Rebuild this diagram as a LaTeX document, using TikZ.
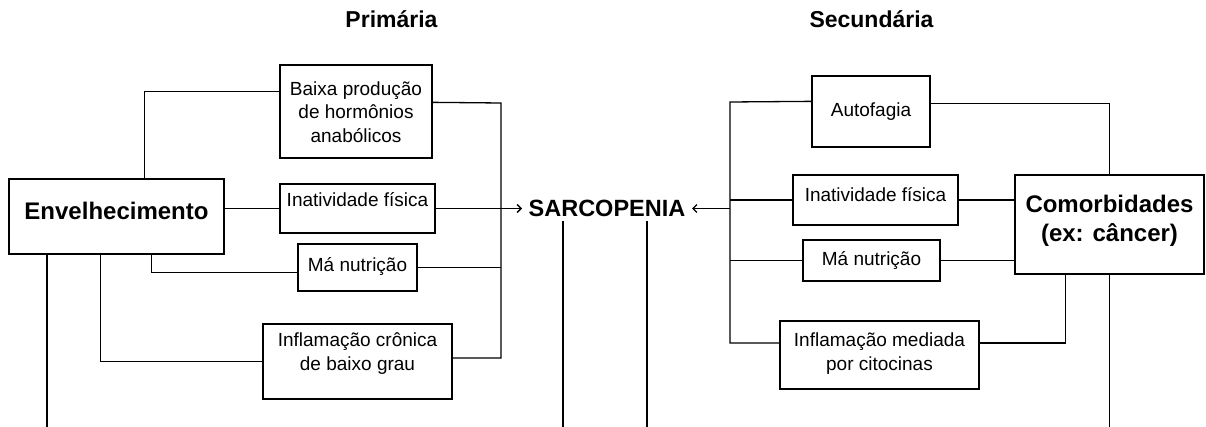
\documentclass[tikz,border=0pt]{standalone}
\usepackage{fontspec}
\setmainfont{Liberation Sans}
\usetikzlibrary{arrows.meta}
\tikzset{
  caixa/.style={draw, align=center, inner sep=0pt, font=\fontsize{19}{23.8}\selectfont},
  forte/.style={font=\fontsize{24}{29}\selectfont\bfseries},
  titulo/.style={font=\fontsize{23}{28}\selectfont\bfseries, anchor=base}
}
\begin{document}
\begin{tikzpicture}[x=1pt,y=-1pt,line width=1.3pt,>={Straight Barb[length=4pt,width=8pt]}]
\useasboundingbox (0,0) rectangle (1206,427);
\node[titulo] (prim) at (391.5,28) {Primária};
\node[titulo] (sec) at (871.5,28) {Secundária};
% causas primarias
\node[caixa, forte, minimum width=215pt, minimum height=75pt, text height=40.3pt, text depth=34.7pt] (env) at (116.5,216.5) {Envelhecimento};
\node[caixa, minimum width=152pt, minimum height=93pt, text height=77.7pt, text depth=15.3pt] (baixa) at (356,111.5) {Baixa produção\\de hormônios\\anabólicos};
\node[caixa, minimum width=155pt, minimum height=49pt, text height=23pt, text depth=26pt] (inal) at (357.5,208.5) {Inatividade física};
\node[caixa, minimum width=119pt, minimum height=47pt, text height=27.7pt, text depth=19.3pt] (manl) at (357.5,267.5) {Má nutrição};
\node[caixa, minimum width=189pt, minimum height=75pt, text height=46.7pt, text depth=28.3pt] (infcr) at (357.5,361.5) {Inflamação crônica\\de baixo grau};
% centro
\node[font=\fontsize{23.5}{28}\selectfont\bfseries, inner xsep=6pt, inner ysep=4pt, text height=16.5pt, text depth=0pt] (sarc) at (607,208.5) {SARCOPENIA};
% causas secundarias
\node[caixa, minimum width=118pt, minimum height=71pt, text height=40.7pt, text depth=30.3pt] (autof) at (871,111.5) {Autofagia};
\node[caixa, minimum width=165pt, minimum height=50pt, text height=26.7pt, text depth=23.3pt] (inar) at (875.5,200) {Inatividade física};
\node[caixa, minimum width=137pt, minimum height=41pt, text height=26pt, text depth=15pt] (manr) at (871.5,260.5) {Má nutrição};
\node[caixa, minimum width=199pt, minimum height=68pt, text height=49pt, text depth=19pt] (infmed) at (879.5,355) {Inflamação mediada\\por citocinas};
\node[caixa, forte, minimum width=189pt, minimum height=99pt, text height=67pt, text depth=32pt] (como) at (1109.5,224.5) {Comorbidades\\(ex: câncer)};
% pontos auxiliares
\coordinate (lt) at (501,103);
\coordinate (lb) at (501,358);
\coordinate (rt) at (730,102);
\coordinate (rb) at (730,343);
\coordinate (fundo) at (0,427);
\coordinate (q1) at (47,427);
\coordinate (q2) at (563,427);
\coordinate (q3) at (647,427);
% ligacoes lado primario
\draw (baixa.north east) ++(0,38) -- (lt) -- (lb) -- (infcr.east |- lb);
\draw (manl.east) -- (manl.east -| lt);
\draw [->] (inal.east) -- (inal.east -| sarc.west);
\draw (baixa.north west) ++(0,27) -| ([xshift=136pt]env.north west);
\draw (env.east |- inal.west) -- (inal.west);
\draw ([xshift=143pt]env.south west) |- ([yshift=-5pt]manl.west);
\draw ([xshift=92pt]env.south west) |- (infcr.west);
\draw (env.south -| q1) -- (q1);
\draw (sarc.south -| q2) -- (q2);
\draw (sarc.south -| q3) -- (q3);
% ligacoes lado secundario
\draw (autof.north west) ++(0,26) -- (rt) -- (rb) -- (infmed.west |- rb);
\draw (inar.west) -- (inar.west -| rt);
\draw (manr.west) -- (manr.west -| rt);
\draw [->] (sarc.east -| rt) -- (sarc.east);
\draw (autof.north east) ++(0,28) -| (como.north);
\draw (inar.east) -- (inar.east -| como.west);
\draw (manr.east) -- (manr.east -| como.west);
\draw (infmed.east |- rb) -| ([xshift=51pt]como.south west);
\draw (como.south) -- (como.south |- fundo);
\end{tikzpicture}
\end{document}
